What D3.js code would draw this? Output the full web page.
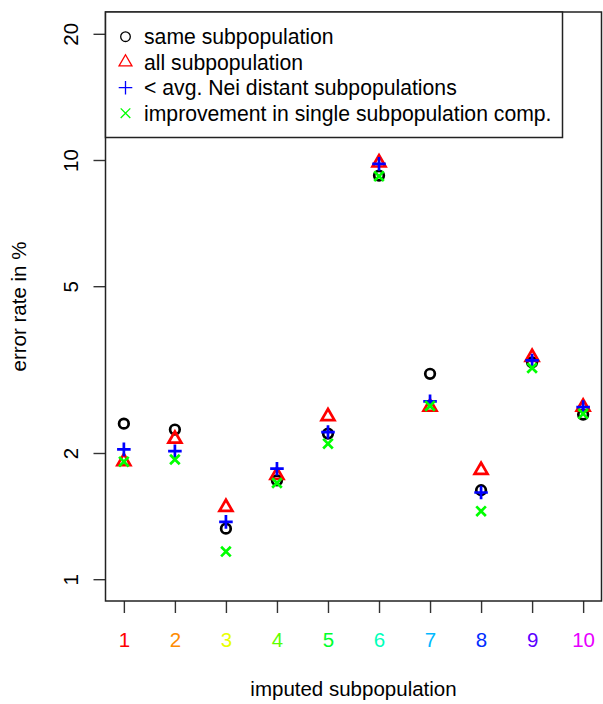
<!DOCTYPE html>
<html>
<head>
<meta charset="utf-8">
<script src="https://cdn.jsdelivr.net/npm/d3@7"></script>
<style>
  body { margin: 0; background: #fff; }
  text { font-family: "Liberation Sans", Arial, sans-serif; }
</style>
</head>
<body>
<div id="chart"></div>
<script>
const subpops = [1, 2, 3, 4, 5, 6, 7, 8, 9, 10];
const sameSub = [2.35, 2.275, 1.32, 1.72, 2.225, 9.18, 3.09, 1.63, 3.29, 2.47];
const allSub = [1.91, 2.16, 1.485, 1.77, 2.445, 9.85, 2.575, 1.82, 3.385, 2.575];
const neiSub = [2.04, 2.02, 1.37, 1.835, 2.244, 9.79, 2.656, 1.61, 3.325, 2.574];
const improvement = [1.907, 1.93, 1.164, 1.696, 2.105, 9.15, 2.59, 1.453, 3.19, 2.48];
const yTicks = [1, 2, 5, 10, 20];
const legendLabels = ["same subpopulation", "all subpopulation",
                      "< avg. Nei distant subpopulations", "improvement in single subpopulation comp."];

function init(){

    const width = 603;
    const height = 704;
    const left = 105.5, right = 601.5, top = 12, bottom = 601;

    const svg = d3.select("#chart")
                .append("svg")
                .attr("width", width)
                .attr("height", height);

    // R style 4% padding on both axes
    const x = d3.scaleLinear()
                .domain([1 - 9 * 0.04, 10 + 9 * 0.04])
                .range([left, right]);

    const pad = Math.log10(20) * 0.04;
    const y = d3.scaleLog()
                .domain([Math.pow(10, -pad), Math.pow(10, Math.log10(20) + pad)])
                .range([bottom, top]);

    // rainbow(11) colours for the tick labels
    const labelColors = d3.range(10).map(i => d3.hsl(i * 360 / 11, 1, 0.5).formatHex());

    const R = 4.8;

    function symbolPath(type, r) {
        if (type === "circle") {
            return `M${r},0A${r},${r} 0 1,1 ${-r},0A${r},${r} 0 1,1 ${r},0Z`;
        }
        if (type === "triangle") {
            const t = 1.5551 * r, xc = 1.3468 * r, yc = 0.7776 * r;
            return `M0,${-t}L${xc},${yc}L${-xc},${yc}Z`;
        }
        if (type === "plus") {
            const p = Math.SQRT2 * r;
            return `M${-p},0L${p},0M0,${-p}L0,${p}`;
        }
        return `M${-r},${-r}L${r},${r}M${-r},${r}L${r},${-r}`;
    }

    const series = [
        {values: sameSub, type: "circle", color: "#000000"},
        {values: allSub, type: "triangle", color: "#FF0000"},
        {values: neiSub, type: "plus", color: "#0000FF"},
        {values: improvement, type: "cross", color: "#00FF00"}
    ];

    // axes
    const yAxis = svg.append("g")
                    .attr("transform", `translate(${left},0)`)
                    .call(d3.axisLeft(y).tickValues(yTicks).tickSize(12).tickFormat(d3.format("d")));

    yAxis.select(".domain").remove();
    yAxis.selectAll(".tick line").attr("stroke", "#333").attr("stroke-width", 1.4);
    yAxis.selectAll(".tick text")
        .attr("transform", "rotate(-90)")
        .attr("x", 0)
        .attr("y", -27.5)
        .attr("dy", null)
        .attr("text-anchor", "middle")
        .attr("font-size", "20.5px")
        .attr("fill", "#000");

    const xAxis = svg.append("g")
                    .attr("transform", `translate(0,${bottom})`)
                    .call(d3.axisBottom(x).tickValues(subpops).tickSize(12).tickFormat(d3.format("d")));

    xAxis.select(".domain").remove();
    xAxis.selectAll(".tick line").attr("stroke", "#333").attr("stroke-width", 1.4);
    xAxis.selectAll(".tick text")
        .attr("y", 46)
        .attr("dy", null)
        .attr("font-size", "20.5px")
        .attr("fill", (d, i) => labelColors[i]);

    // plot box
    svg.append("rect")
        .attr("x", left)
        .attr("y", top)
        .attr("width", right - left)
        .attr("height", bottom - top)
        .attr("fill", "none")
        .attr("stroke", "#222")
        .attr("stroke-width", 1.5);

    // points
    series.forEach(s => {
        svg.append("g")
            .selectAll("path")
            .data(s.values)
            .enter().append("path")
            .attr("transform", (d, i) => `translate(${x(subpops[i])},${y(d)})`)
            .attr("d", symbolPath(s.type, R))
            .attr("fill", "none")
            .attr("stroke", s.color)
            .attr("stroke-width", 2.7);
    });

    // legend
    const legend = svg.append("g");

    legend.append("rect")
        .attr("x", left)
        .attr("y", top)
        .attr("width", 457)
        .attr("height", 125.5)
        .attr("fill", "#fff")
        .attr("stroke", "#222")
        .attr("stroke-width", 1.5);

    legendLabels.forEach((label, i) => {
        const rowY = 36.7 + i * 25.5;
        legend.append("path")
            .attr("transform", `translate(125.5,${rowY})`)
            .attr("d", symbolPath(series[i].type, R))
            .attr("fill", "none")
            .attr("stroke", series[i].color)
            .attr("stroke-width", 1.3);
        legend.append("text")
            .attr("x", 144)
            .attr("y", rowY + 7.5)
            .attr("font-size", "21.2px")
            .attr("fill", "#000")
            .text(label);
    });

    // axis titles
    svg.append("text")
        .attr("x", (left + right) / 2)
        .attr("y", 696)
        .attr("text-anchor", "middle")
        .attr("font-size", "20.5px")
        .text("imputed subpopulation");

    svg.append("text")
        .attr("transform", `translate(26,${(top + bottom) / 2}) rotate(-90)`)
        .attr("text-anchor", "middle")
        .attr("font-size", "20.5px")
        .text("error rate in %");

}
window.onload = init;
</script>
</body>
</html>
